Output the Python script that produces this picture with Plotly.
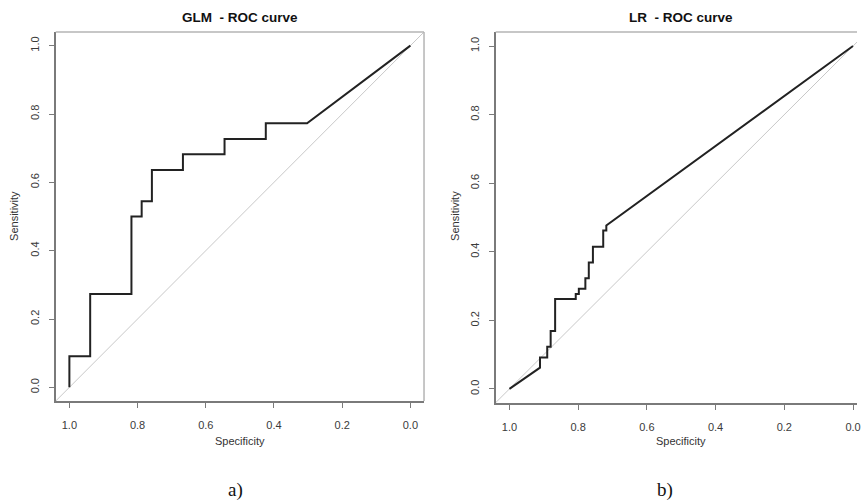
import plotly.graph_objects as go

# GLM ROC curve (specificity, sensitivity)
glm_spec = [1.0, 1.0, 0.939, 0.939, 0.818, 0.818, 0.788, 0.788, 0.758, 0.758,
            0.667, 0.667, 0.545, 0.545, 0.424, 0.424, 0.303, 0.0]
glm_sens = [0.0, 0.091, 0.091, 0.273, 0.273, 0.500, 0.500, 0.545, 0.545, 0.636,
            0.636, 0.682, 0.682, 0.727, 0.727, 0.773, 0.773, 1.0]

# LR ROC curve (specificity, sensitivity)
lr_spec = [1.0, 0.911, 0.911, 0.890, 0.890, 0.880, 0.880, 0.867, 0.867, 0.807,
           0.807, 0.798, 0.798, 0.779, 0.779, 0.769, 0.769, 0.757, 0.757, 0.727,
           0.727, 0.718, 0.718, 0.0]
lr_sens = [0.0, 0.062, 0.092, 0.092, 0.123, 0.123, 0.169, 0.169, 0.262, 0.262,
           0.277, 0.277, 0.292, 0.292, 0.323, 0.323, 0.369, 0.369, 0.415, 0.415,
           0.462, 0.462, 0.477, 1.0]

# chance diagonal (specificity + sensitivity = 1)
diag_spec = [1.04, -0.04]
diag_sens = [-0.04, 1.04]

tick_vals = [0.0, 0.2, 0.4, 0.6, 0.8, 1.0]
tick_text = ["0.0", "0.2", "0.4", "0.6", "0.8", "1.0"]

titles = ["GLM  - ROC curve", "LR  - ROC curve"]
captions = ["a)", "b)"]

W, H = 861, 501
fig = go.Figure()

for i, (sx, sy) in enumerate([(glm_spec, glm_sens), (lr_spec, lr_sens)]):
    xa = "x" if i == 0 else "x2"
    ya = "y" if i == 0 else "y2"
    fig.add_trace(go.Scatter(x=diag_spec, y=diag_sens, mode="lines",
                             line=dict(color="#c8c8c8", width=1),
                             xaxis=xa, yaxis=ya, hoverinfo="skip"))
    fig.add_trace(go.Scatter(x=sx, y=sy, mode="lines",
                             line=dict(color="#222222", width=2),
                             xaxis=xa, yaxis=ya))

axis_common = dict(showgrid=False, zeroline=False, showline=True,
                   linecolor="#7a7a7a", linewidth=2,
                   ticks="outside", ticklen=5, tickwidth=1, tickcolor="#7a7a7a",
                   tickvals=tick_vals, ticktext=tick_text,
                   ticklabeloverflow="allow",
                   tickfont=dict(family="Liberation Sans", size=11, color="#3a3a3a"),
                   mirror=False)

fig.update_layout(
    width=W, height=H,
    margin=dict(l=0, r=0, t=0, b=0),
    paper_bgcolor="white", plot_bgcolor="white",
    showlegend=False,
    xaxis=dict(domain=[56 / W, 426 / W], range=[1.04, -0.04], anchor="y",
               ticklabelstandoff=8, **axis_common),
    yaxis=dict(domain=[1 - 401 / H, 1 - 32 / H], range=[-0.04, 1.04], anchor="x",
               tickangle=-90, ticklabelstandoff=5, **axis_common),
    xaxis2=dict(domain=[498 / W, 1.0], range=[1.04, -0.0116], anchor="y2",
                ticklabelstandoff=8, **axis_common),
    yaxis2=dict(domain=[1 - 403 / H, 1 - 32 / H], range=[-0.041, 1.041], anchor="x2",
                tickangle=-90, ticklabelstandoff=5, **axis_common),
)

# top/right box edges (lighter)
box_col = "#b4b4b4"
fig.add_shape(type="line", xref="x domain", yref="y domain", x0=0, x1=1, y0=1, y1=1,
              line=dict(color=box_col, width=1.5))
fig.add_shape(type="line", xref="x domain", yref="y domain", x0=1, x1=1, y0=0, y1=1,
              line=dict(color=box_col, width=1.5))
fig.add_shape(type="line", xref="x2 domain", yref="y2 domain", x0=0, x1=1, y0=1, y1=1,
              line=dict(color=box_col, width=1.5))

# titles, axis labels, captions
centers = [241, 684]
ylab_x = [14, 457]
for i in range(2):
    fig.add_annotation(x=centers[i] / W, y=1 - 18 / H, xref="paper", yref="paper",
                       xanchor="center", yanchor="middle",
                       text="<b>" + titles[i] + "</b>", showarrow=False,
                       font=dict(family="Liberation Sans", size=13.5, color="#111111"))
    fig.add_annotation(x=centers[i] / W, y=1 - 441 / H, xref="paper", yref="paper",
                       xanchor="center", yanchor="middle",
                       text="Specificity", showarrow=False,
                       font=dict(family="Liberation Sans", size=11, color="#333333"))
    fig.add_annotation(x=ylab_x[i] / W, y=1 - 216 / H, xref="paper", yref="paper",
                       xanchor="center", yanchor="middle",
                       text="Sensitivity", showarrow=False, textangle=-90,
                       font=dict(family="Liberation Sans", size=11, color="#333333"))
cap_x = [237, 668]
for i in range(2):
    fig.add_annotation(x=cap_x[i] / W, y=1 - 490 / H, xref="paper", yref="paper",
                       xanchor="center", yanchor="middle",
                       text=captions[i], showarrow=False,
                       font=dict(family="Liberation Serif", size=19, color="#111111"))

fig.write_html("out.html", config={"displayModeBar": False},
               post_script="document.body.style.margin='0px';")
